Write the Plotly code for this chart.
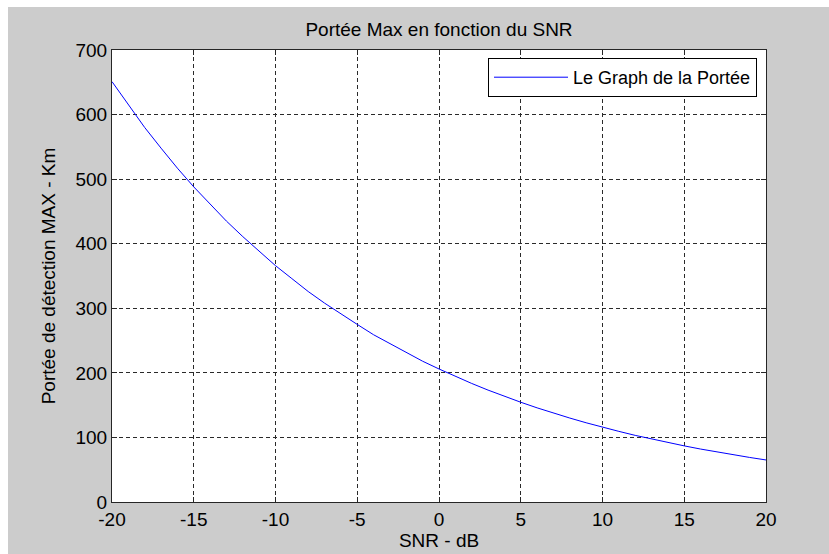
import plotly.graph_objects as go

# SNR values (dB) and maximum detection range (km)
snr_db = list(range(-20, 21))
portee_km = [651, 615, 580, 548, 517, 488, 461, 435, 411, 388,
             366, 346, 326, 308, 291, 275, 259, 245, 231, 218,
             206, 194.5, 183.6, 173.3, 163.6, 154.5, 145.8, 137.7, 130.0, 122.7,
             115.8, 109.4, 103.2, 97.5, 92.0, 86.9, 82.0, 77.4, 73.1, 69.0, 65.1]

x_ticks = [-20, -15, -10, -5, 0, 5, 10, 15, 20]
y_ticks = [0, 100, 200, 300, 400, 500, 600, 700]

W, H = 829, 554
L, R, T, B = 112, 63, 50, 52
PW, PH = W - L - R, H - T - B

FONT = "Liberation Sans, Arial, sans-serif"
FS = 19
AXCOL = "#262626"

fig = go.Figure()
fig.add_trace(go.Scatter(
    x=snr_db, y=portee_km, mode="lines",
    line=dict(color="#0000ff", width=1),
    name="Le Graph de la Portée",
))

axis_common = dict(
    showline=True, linecolor=AXCOL, linewidth=1, mirror="ticks",
    ticks="inside", ticklen=5, tickcolor=AXCOL, tickwidth=1,
    showgrid=True, gridcolor="#2a2a2a", gridwidth=1, griddash="4px,3px",
    zeroline=False, tickfont=dict(family=FONT, size=FS, color="#000000"),
)

fig.update_xaxes(
    range=[-20, 20], tickvals=x_ticks, ticktext=[str(v) for v in x_ticks],
    title=dict(text="SNR - dB", font=dict(family=FONT, size=FS, color="#000000"), standoff=0),
    automargin=False,
    **axis_common,
)
fig.update_yaxes(
    range=[0, 700], tickvals=y_ticks, ticktext=[str(v) for v in y_ticks],
    title=dict(text="Portée de détection MAX - Km", font=dict(family=FONT, size=FS, color="#000000"), standoff=14),
    automargin=False,
    **axis_common,
)

fig.update_layout(
    width=W, height=H,
    margin=dict(l=L, r=R, t=T, b=B, pad=0, autoexpand=False),
    paper_bgcolor="#cccccc", plot_bgcolor="#ffffff",
    title=dict(text="Portée Max en fonction du SNR", x=(L + PW / 2) / W, xanchor="center",
               y=1 - 29 / H, yanchor="middle",
               font=dict(family=FONT, size=FS, color="#000000")),
    showlegend=True,
    legend=dict(x=1 - 9 / PW, xanchor="right", y=1 - 8 / PH, yanchor="top",
                bgcolor="#ffffff", bordercolor="#000000", borderwidth=1,
                itemwidth=74, tracegroupgap=0,
                font=dict(family=FONT, size=18, color="#000000")),
)

# white strips along the top and left edges of the figure window
fig.add_shape(type="rect", xref="paper", yref="paper", layer="above",
              x0=-L / PW, x1=(8 - L) / PW, y0=-B / PH, y1=1 + T / PH,
              fillcolor="#ffffff", line=dict(width=0))
fig.add_shape(type="rect", xref="paper", yref="paper", layer="above",
              x0=-L / PW, x1=1 + R / PW, y0=1 + (T - 7) / PH, y1=1 + T / PH,
              fillcolor="#ffffff", line=dict(width=0))

fig.write_html("out.html")
